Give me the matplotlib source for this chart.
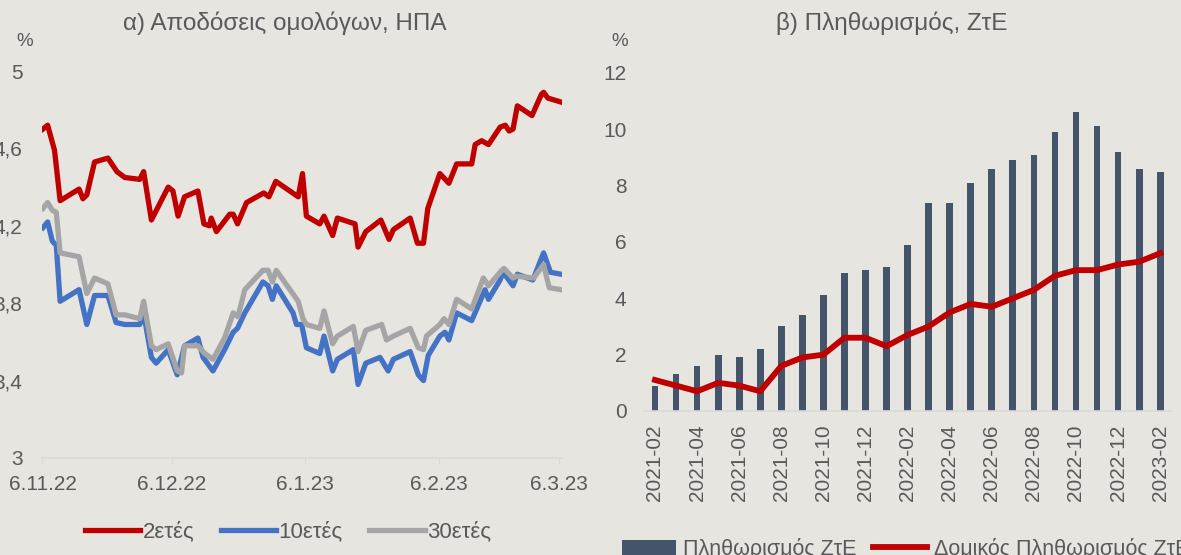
import matplotlib
matplotlib.use('Agg')
import matplotlib.pyplot as plt
import matplotlib.dates as mdates
import numpy as np
import pandas as pd

plt.rcParams['font.family'] = ['Liberation Sans', 'DejaVu Sans']

# --- left panel: US bond yields, days counted from 6.11.22 ---
start = pd.Timestamp('2022-11-06')

y2_days = [0.1, 1.2, 2.8, 4.1, 8.5, 9.4, 10.3, 12.1, 15.2, 17.3, 19.1, 22.6, 23.5,
           25.3, 29.2, 30.3, 31.5, 33.0, 36.1, 37.5, 38.8, 39.2, 40.4, 43.5, 44.3,
           45.3, 47.4, 51.4, 52.6, 54.2, 59.4, 60.4, 61.3, 64.4, 65.4, 67.4, 68.5,
           72.6, 73.3, 75.1, 78.6, 80.5, 81.5, 85.4, 87.1, 88.5, 89.5, 92.3, 94.4,
           96.2, 99.7, 100.5, 102.0, 103.6, 106.3, 107.5, 108.4, 109.3, 110.3,
           113.7, 115.9, 116.4, 117.4, 120.4]
y2_vals = [4.70, 4.72, 4.59, 4.33, 4.39, 4.34, 4.36, 4.53, 4.55, 4.48, 4.45, 4.44, 4.48,
           4.23, 4.40, 4.38, 4.25, 4.35, 4.38, 4.21, 4.20, 4.24, 4.17, 4.26, 4.26,
           4.21, 4.32, 4.37, 4.35, 4.43, 4.35, 4.47, 4.25, 4.21, 4.25, 4.15, 4.24,
           4.21, 4.09, 4.17, 4.23, 4.13, 4.18, 4.24, 4.11, 4.11, 4.29, 4.47, 4.42,
           4.52, 4.52, 4.62, 4.64, 4.62, 4.71, 4.72, 4.69, 4.70, 4.82,
           4.77, 4.88, 4.89, 4.86, 4.84]

y10_days = [0.1, 1.2, 2.3, 3.2, 4.1, 8.5, 10.3, 12.1, 15.2, 17.1, 19.1, 22.6, 23.5,
            25.3, 26.4, 29.2, 31.3, 33.0, 36.1, 37.3, 39.6, 42.3, 44.3, 45.3, 47.0,
            51.2, 52.4, 53.4, 54.3, 58.2, 59.0, 60.2, 61.3, 64.4, 65.4, 67.4, 68.5,
            72.2, 73.3, 75.1, 78.4, 80.3, 81.5, 85.4, 87.3, 88.5, 89.6, 92.3, 93.5,
            94.4, 96.2, 99.7, 102.8, 103.6, 106.3, 107.0, 109.3, 110.3, 113.9,
            116.4, 118.0, 120.4]
y10_vals = [4.19, 4.22, 4.12, 4.10, 3.81, 3.87, 3.69, 3.84, 3.84, 3.70, 3.69, 3.69, 3.75,
            3.52, 3.49, 3.56, 3.43, 3.58, 3.62, 3.52, 3.45, 3.56, 3.65, 3.67, 3.75,
            3.91, 3.89, 3.82, 3.89, 3.75, 3.69, 3.69, 3.57, 3.54, 3.63, 3.45, 3.51,
            3.56, 3.38, 3.49, 3.52, 3.45, 3.51, 3.55, 3.43, 3.40, 3.53, 3.63, 3.65,
            3.61, 3.75, 3.71, 3.87, 3.82, 3.92, 3.96, 3.89, 3.95, 3.92,
            4.06, 3.96, 3.95]

y30_days = [0.1, 1.2, 2.3, 3.2, 4.1, 8.5, 10.3, 12.1, 15.2, 17.1, 19.1, 22.6, 23.5,
            25.3, 26.4, 29.2, 31.3, 32.3, 33.0, 36.1, 37.7, 39.6, 42.3, 44.3, 45.4,
            47.0, 51.2, 52.4, 53.4, 54.3, 59.4, 60.5, 61.3, 64.4, 65.4, 67.4, 68.5,
            72.2, 73.3, 75.1, 78.8, 79.9, 81.5, 85.4, 87.3, 88.5, 89.2, 92.3, 93.3,
            94.4, 96.2, 99.7, 102.4, 103.6, 106.3, 107.2, 109.3, 110.1, 114.1,
            116.4, 117.7, 120.4]
y30_vals = [4.29, 4.32, 4.28, 4.27, 4.06, 4.04, 3.85, 3.93, 3.90, 3.74, 3.74, 3.72, 3.81,
            3.58, 3.56, 3.59, 3.45, 3.44, 3.58, 3.58, 3.54, 3.51, 3.62, 3.75, 3.73,
            3.87, 3.97, 3.97, 3.91, 3.97, 3.81, 3.72, 3.69, 3.67, 3.76, 3.59, 3.63,
            3.68, 3.55, 3.66, 3.69, 3.61, 3.63, 3.67, 3.57, 3.56, 3.63, 3.69, 3.72,
            3.69, 3.82, 3.77, 3.93, 3.89, 3.96, 3.98, 3.93, 3.94, 3.93,
            4.00, 3.88, 3.87]

left_ticks = ['2022-11-06', '2022-12-06', '2023-01-06', '2023-02-06', '2023-03-06']
left_ticklabels = ['6.11.22', '6.12.22', '6.1.23', '6.2.23', '6.3.23']

# --- right panel: euro area inflation ---
months = ['2021-02', '2021-03', '2021-04', '2021-05', '2021-06', '2021-07', '2021-08',
          '2021-09', '2021-10', '2021-11', '2021-12', '2022-01', '2022-02', '2022-03',
          '2022-04', '2022-05', '2022-06', '2022-07', '2022-08', '2022-09', '2022-10',
          '2022-11', '2022-12', '2023-01', '2023-02']
hicp = [0.9, 1.3, 1.6, 2.0, 1.9, 2.2, 3.0, 3.4, 4.1, 4.9, 5.0, 5.1, 5.9, 7.4,
        7.4, 8.1, 8.6, 8.9, 9.1, 9.9, 10.6, 10.1, 9.2, 8.6, 8.5]
core = [1.1, 0.9, 0.7, 1.0, 0.9, 0.7, 1.6, 1.9, 2.0, 2.6, 2.6, 2.3, 2.7, 3.0,
        3.5, 3.8, 3.7, 4.0, 4.3, 4.8, 5.0, 5.0, 5.2, 5.3, 5.6]

bg = '#e6e5e0'
txt = '#595959'
red = '#c00000'
blue = '#4472c4'
grey = '#a5a5a5'
navy = '#44546a'

fig = plt.figure(figsize=(11.81, 5.55), dpi=100)
fig.patch.set_facecolor(bg)

# left chart
ax1 = fig.add_axes([0.0356, 0.1748, 0.440, 0.6972])
ax1.set_facecolor(bg)
t0 = mdates.date2num(start)
ax1.plot(t0 + np.array(y2_days), y2_vals, color=red, lw=3.8, label='2ετές', solid_joinstyle='round')
ax1.plot(t0 + np.array(y10_days), y10_vals, color=blue, lw=3.8, label='10ετές', solid_joinstyle='round')
ax1.plot(t0 + np.array(y30_days), y30_vals, color=grey, lw=3.8, label='30ετές', solid_joinstyle='round')
ax1.set_ylim(3, 5)
ax1.set_xlim(t0 - 0.1, t0 + 120.6)
ax1.set_yticks([3, 3.4, 3.8, 4.2, 4.6, 5])
ax1.set_yticklabels(['3', '3,4', '3,8', '4,2', '4,6', '5'])
ax1.set_xticks([mdates.date2num(pd.Timestamp(d)) for d in left_ticks])
ax1.set_xticklabels(left_ticklabels)
for s in ['top', 'right', 'left']:
    ax1.spines[s].set_visible(False)
ax1.spines['bottom'].set_color('#d9d9d9')
ax1.spines['bottom'].set_linewidth(1.2)
ax1.tick_params(axis='y', length=0, pad=14, labelsize=15, labelcolor=txt)
ax1.tick_params(axis='x', length=4, color='#d9d9d9', pad=8, labelsize=15, labelcolor=txt)
fig.text(285 / 1181, 1 - 23 / 555, 'α) Αποδόσεις ομολόγων, ΗΠΑ', ha='center', va='center',
         fontsize=17.5, color=txt)
fig.text(25 / 1181, 1 - 42 / 555, '%', ha='center', va='center', fontsize=13.5, color=txt)
fig.legend(handles=ax1.get_lines(), loc='center', bbox_to_anchor=(288 / 1181, 1 - 532 / 555),
           ncol=3, frameon=False, fontsize=16, handlelength=2.5, handletextpad=0.1,
           columnspacing=1.2, labelcolor=txt)

# right chart
ax2 = fig.add_axes([0.5457, 0.2595, 0.4456, 0.609])
ax2.set_facecolor(bg)
xpos = np.arange(len(months))
ax2.bar(xpos, hicp, width=0.32, color=navy, label='Πληθωρισμός ΖτΕ')
ax2.plot(xpos, core, color=red, lw=4.2, label='Δομικός Πληθωρισμός ΖτΕ', solid_joinstyle='round')
ax2.set_ylim(0, 12)
ax2.set_xlim(-0.5, 24.5)
ax2.set_yticks(range(0, 13, 2))
ax2.set_xticks(xpos[::2])
ax2.set_xticklabels(months[::2], rotation=90)
for s in ['top', 'right', 'left']:
    ax2.spines[s].set_visible(False)
ax2.spines['bottom'].set_color('#d9d9d9')
ax2.spines['bottom'].set_linewidth(1.2)
ax2.tick_params(axis='y', length=0, pad=13, labelsize=15, labelcolor=txt)
ax2.tick_params(axis='x', length=0, pad=10, labelsize=15, labelcolor=txt)
fig.text(892 / 1181, 1 - 23 / 555, 'β) Πληθωρισμός, ΖτΕ', ha='center', va='center',
         fontsize=17.5, color=txt)
fig.text(620 / 1181, 1 - 42 / 555, '%', ha='center', va='center', fontsize=13.5, color=txt)
h, l = ax2.get_legend_handles_labels()
fig.legend(h[::-1], l[::-1], loc='center left', bbox_to_anchor=(603 / 1181, 1 - 549 / 555),
           ncol=2, frameon=False, fontsize=15.5, handlelength=2.5, handletextpad=0.3,
           columnspacing=0.8, labelcolor=txt)

fig.savefig('out.png', dpi=100, facecolor=bg)
